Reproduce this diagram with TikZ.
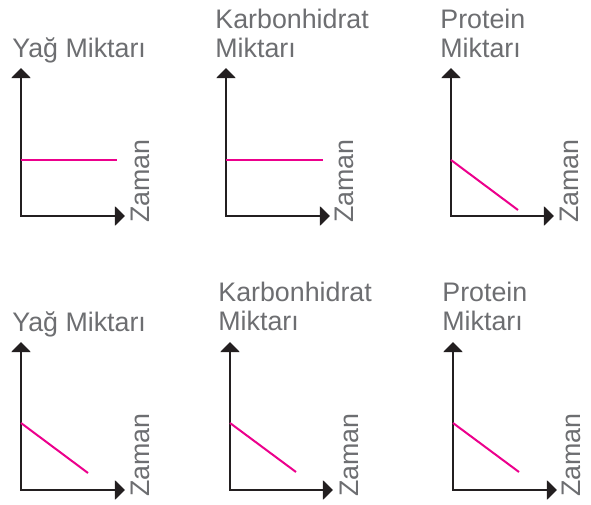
\documentclass[tikz,border=0pt]{standalone}
\usepackage{fontspec}
\setmainfont{Liberation Sans}
\usetikzlibrary{arrows.meta}
\definecolor{axisblack}{HTML}{231F20}
\definecolor{textgrey}{HTML}{6D6E71}
\definecolor{trendpink}{HTML}{EC008C}
\tikzset{
    axes/.style={draw=axisblack, line width=1pt,
        {Triangle[length=5pt,width=9.5pt]}-{Triangle[length=5pt,width=9.5pt]}},
    trend/.style={draw=trendpink, line width=1pt},
    amount/.style={text=textgrey, font=\fontsize{13.4}{14.5}\selectfont,
        align=left, inner sep=0pt, anchor=base west},
    timetext/.style={text=textgrey, font=\fontsize{13.4}{14.5}\selectfont,
        inner sep=0pt, rotate=90, anchor=base west}
}

\begin{document}
\begin{tikzpicture}[x=0.5pt, y=-0.5pt]
                                \useasboundingbox (0, 0) rectangle (591, 505);
                                \begin{scope}[shift={(21, 216)}]
                                    \coordinate (o1) at (0, 0);
                                    \coordinate (y1) at (0, -148);
                                    \coordinate (x1) at (104, 0);
                                    \draw[axes] (y1) -- (o1) -- (x1);
                                    \coordinate (a1) at (0, -56);
                                    \coordinate (b1) at (96, -56);
                                    \draw[trend] (a1) -- (b1);
                                    \node[amount] (q1) at (-9, -159) {Yağ Miktarı};
                                    \node[timetext] (z1) at (128, 7) {Zaman};
                                \end{scope}
                                \begin{scope}[shift={(226, 216)}]
                                    \coordinate (o2) at (0, 0);
                                    \coordinate (y2) at (0, -148);
                                    \coordinate (x2) at (104, 0);
                                    \draw[axes] (y2) -- (o2) -- (x2);
                                    \coordinate (a2) at (0, -56);
                                    \coordinate (b2) at (97, -56);
                                    \draw[trend] (a2) -- (b2);
                                    \node[amount] (q2) at (-11, -159) {Karbonhidrat\\Miktarı};
                                    \node[timetext] (z2) at (128, 7) {Zaman};
                                \end{scope}
                                \begin{scope}[shift={(451, 216)}]
                                    \coordinate (o3) at (0, 0);
                                    \coordinate (y3) at (0, -148);
                                    \coordinate (x3) at (103, 0);
                                    \draw[axes] (y3) -- (o3) -- (x3);
                                    \coordinate (a3) at (0, -56);
                                    \coordinate (b3) at (67, -6);
                                    \draw[trend] (a3) -- (b3);
                                    \node[amount] (q3) at (-11, -159) {Protein\\Miktarı};
                                    \node[timetext] (z3) at (128, 7) {Zaman};
                                \end{scope}
                                \begin{scope}[shift={(21, 490)}]
                                    \coordinate (o4) at (0, 0);
                                    \coordinate (y4) at (0, -148);
                                    \coordinate (x4) at (104, 0);
                                    \draw[axes] (y4) -- (o4) -- (x4);
                                    \coordinate (a4) at (0, -67);
                                    \coordinate (b4) at (67, -17);
                                    \draw[trend] (a4) -- (b4);
                                    \node[amount] (q4) at (-9, -159) {Yağ Miktarı};
                                    \node[timetext] (z4) at (128, 7) {Zaman};
                                \end{scope}
                                \begin{scope}[shift={(230, 490)}]
                                    \coordinate (o5) at (0, 0);
                                    \coordinate (y5) at (0, -148);
                                    \coordinate (x5) at (103, 0);
                                    \draw[axes] (y5) -- (o5) -- (x5);
                                    \coordinate (a5) at (0, -67);
                                    \coordinate (b5) at (66, -18);
                                    \draw[trend] (a5) -- (b5);
                                    \node[amount] (q5) at (-12, -160) {Karbonhidrat\\Miktarı};
                                    \node[timetext] (z5) at (128, 7) {Zaman};
                                \end{scope}
                                \begin{scope}[shift={(453, 490)}]
                                    \coordinate (o6) at (0, 0);
                                    \coordinate (y6) at (0, -148);
                                    \coordinate (x6) at (104, 0);
                                    \draw[axes] (y6) -- (o6) -- (x6);
                                    \coordinate (a6) at (0, -67);
                                    \coordinate (b6) at (66, -18);
                                    \draw[trend] (a6) -- (b6);
                                    \node[amount] (q6) at (-11, -160) {Protein\\Miktarı};
                                    \node[timetext] (z6) at (128, 7) {Zaman};
                                \end{scope}
                            \end{tikzpicture}
\end{document}
